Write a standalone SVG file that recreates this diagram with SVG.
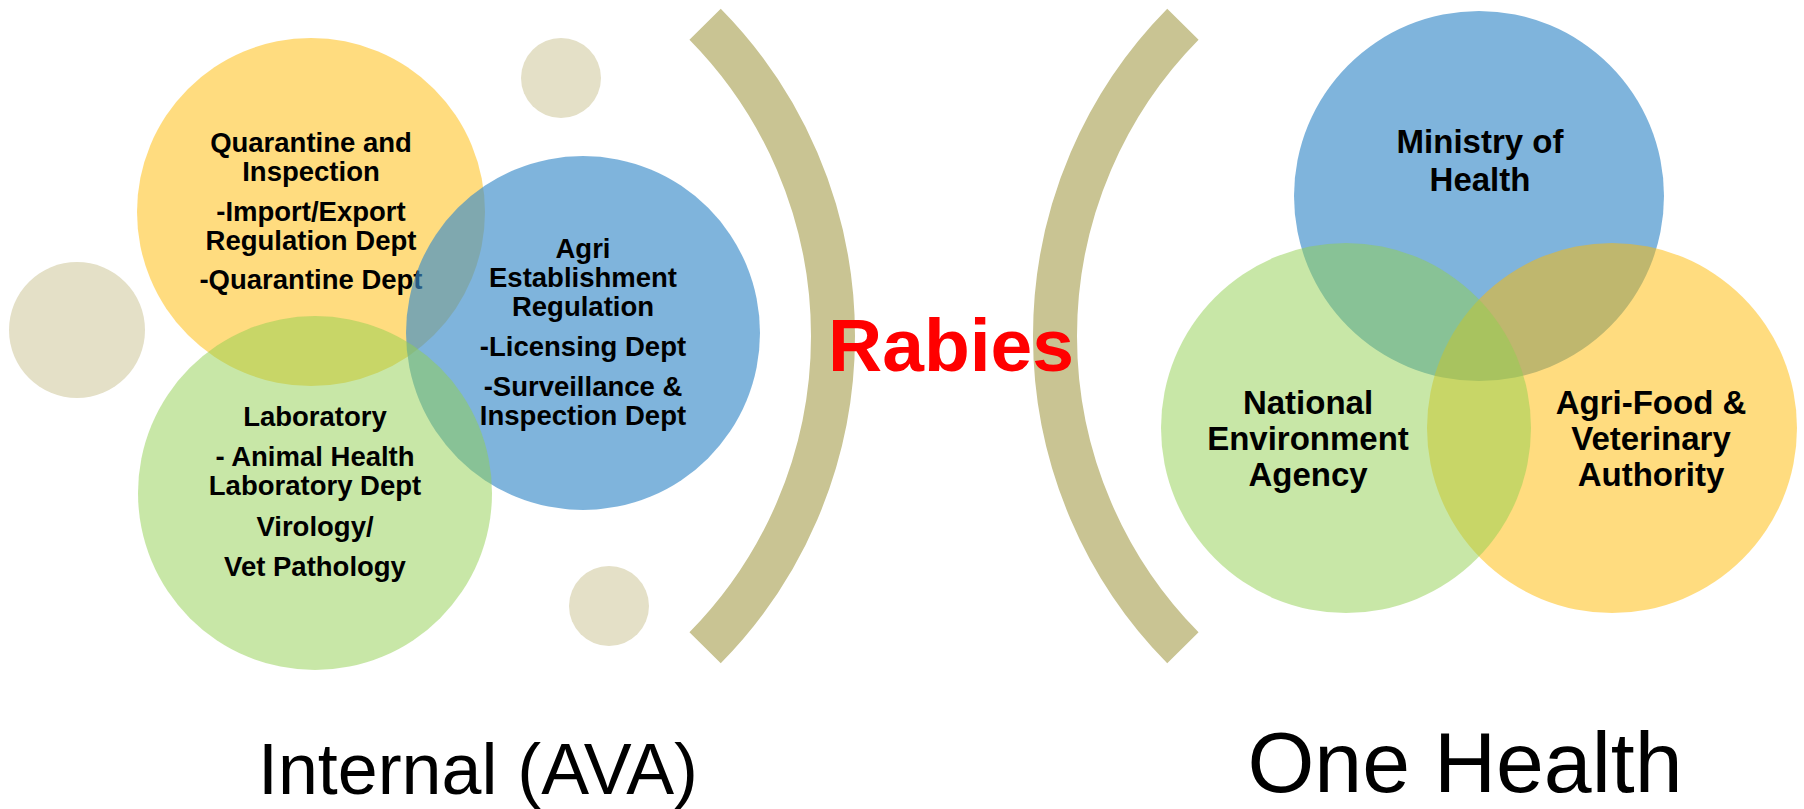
<svg xmlns="http://www.w3.org/2000/svg" width="1804" height="809" viewBox="0 0 1804 809">
<style>
.y{fill:rgb(255,185,0);fill-opacity:0.5}
.b{fill:rgb(58,140,201);fill-opacity:0.65}
.g{fill:rgb(146,208,80);fill-opacity:0.5}
.d{fill:#E4E0C7}
.br{fill:none;stroke:#C9C493;stroke-width:44;stroke-linecap:butt}
.t{font-family:"Liberation Sans",Arial,sans-serif;font-weight:bold;font-size:27.5px;fill:#000;text-anchor:middle}
.t2{font-family:"Liberation Sans",Arial,sans-serif;font-weight:bold;font-size:33px;fill:#000;text-anchor:middle}
.lab{font-family:"Liberation Sans",Arial,sans-serif;fill:#000;text-anchor:middle}
</style>
<rect width="1804" height="809" fill="#fff"/>
<g id="decor">
<circle class="d" cx="77" cy="330" r="68"/>
<circle class="d" cx="561" cy="78" r="40"/>
<circle class="d" cx="609" cy="606" r="40"/>
</g>
<g id="connectors">
<path class="br" d="M705.1,24.2 A444,444 0 0 1 705.1,647.8"/>
<path class="br" d="M1182.9,24.2 A444,444 0 0 0 1182.9,647.8"/>
</g>
<g id="quarantine">
<circle class="y" cx="311" cy="212" r="174"/>
<text class="t" x="311" y="152">Quarantine and</text>
<text class="t" x="311" y="181">Inspection</text>
<text class="t" x="311" y="221">-Import/Export</text>
<text class="t" x="311" y="250">Regulation Dept</text>
<text class="t" x="311" y="289">-Quarantine Dept</text>
</g>
<g id="agri-establishment">
<circle class="b" cx="583" cy="333" r="177"/>
<text class="t" x="583" y="258">Agri</text>
<text class="t" x="583" y="287">Establishment</text>
<text class="t" x="583" y="316">Regulation</text>
<text class="t" x="583" y="356">-Licensing Dept</text>
<text class="t" x="583" y="396">-Surveillance &amp;</text>
<text class="t" x="583" y="425">Inspection Dept</text>
</g>
<g id="laboratory">
<circle class="g" cx="315" cy="493" r="177"/>
<text class="t" x="315" y="426">Laboratory</text>
<text class="t" x="315" y="466">- Animal Health</text>
<text class="t" x="315" y="495">Laboratory Dept</text>
<text class="t" x="315" y="536">Virology/</text>
<text class="t" x="315" y="576">Vet Pathology</text>
</g>
<g id="rabies">
<text x="951" y="371" font-family="Liberation Sans, Arial, sans-serif" font-weight="bold" font-size="75" fill="#FF0000" text-anchor="middle">Rabies</text>
</g>
<g id="moh">
<circle cx="1479" cy="196" r="185" fill="rgb(127,180,220)"/>
<text class="t2" x="1480" y="153">Ministry of</text>
<text class="t2" x="1480" y="191">Health</text>
</g>
<g id="ava">
<circle class="y" cx="1612" cy="428" r="185"/>
<text class="t2" x="1651" y="414">Agri-Food &amp;</text>
<text class="t2" x="1651" y="450">Veterinary</text>
<text class="t2" x="1651" y="486">Authority</text>
</g>
<g id="nea">
<circle class="g" cx="1346" cy="428" r="185"/>
<text class="t2" x="1308" y="414">National</text>
<text class="t2" x="1308" y="450">Environment</text>
<text class="t2" x="1308" y="486">Agency</text>
</g>
<g id="labels">
<text class="lab" x="478" y="794" font-size="73" textLength="440" lengthAdjust="spacingAndGlyphs">Internal (AVA)</text>
<text class="lab" x="1465" y="792" font-size="86">One Health</text>
</g>
</svg>
